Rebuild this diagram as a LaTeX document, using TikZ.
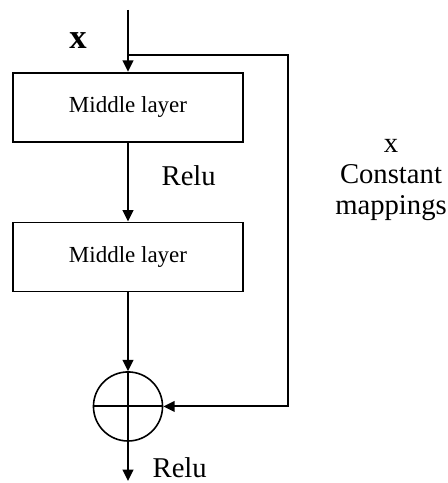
\documentclass[tikz,border=0pt]{standalone}
\usepackage{fontspec}
\setmainfont{Liberation Serif}
\usetikzlibrary{arrows.meta,positioning}

\begin{document}
\begin{tikzpicture}[x=1pt,y=1pt,line width=1.45pt,
layer/.style={draw,rectangle,minimum width=172.5pt,minimum height=51.75pt,font=\fontsize{17.25}{20}\selectfont},
sum/.style={draw,circle,minimum size=51.8pt,inner sep=0pt,line width=1.2pt},
arr/.style={-{Triangle[length=8.5pt,width=8pt]}},
lbl/.style={inner sep=0pt,font=\fontsize{21.5}{23.25}\selectfont}]
\useasboundingbox (0,0) rectangle (336,362.25);
\coordinate (in) at (96,354.75);
\coordinate (split) at (96,321);
\coordinate (right) at (216,321);
\node[layer] (mid1) at (96,281.85) {Middle layer};
\node[layer] (mid2) at (96,169.5) {Middle layer};
\node[sum] (add) at (96,57.4) {};
\coordinate (out) at (96,1.5);
\draw[arr] (in) -- (mid1);
\draw[arr] (mid1) -- (mid2);
\draw[arr] (mid2) -- (add);
\draw (add.north) -- (add.south);
\draw (add.west) -- (add.east);
\draw[arr] (add) -- (out);
\draw[arr] (split) -- (right) |- (add);
% labels
\node[inner sep=0pt,anchor=base,font=\fontsize{26}{30}\selectfont\bfseries] (xin) at (58.5,325.9) {x};
\node[lbl,anchor=base west] (relu1) at (120.5,223) {Relu};
\node[lbl,anchor=base west] (relu2) at (113.75,4.5) {Relu};
\node[lbl,align=center] (ident) at (293.25,227) {x\\Constant\\mappings};
\end{tikzpicture}
\end{document}
